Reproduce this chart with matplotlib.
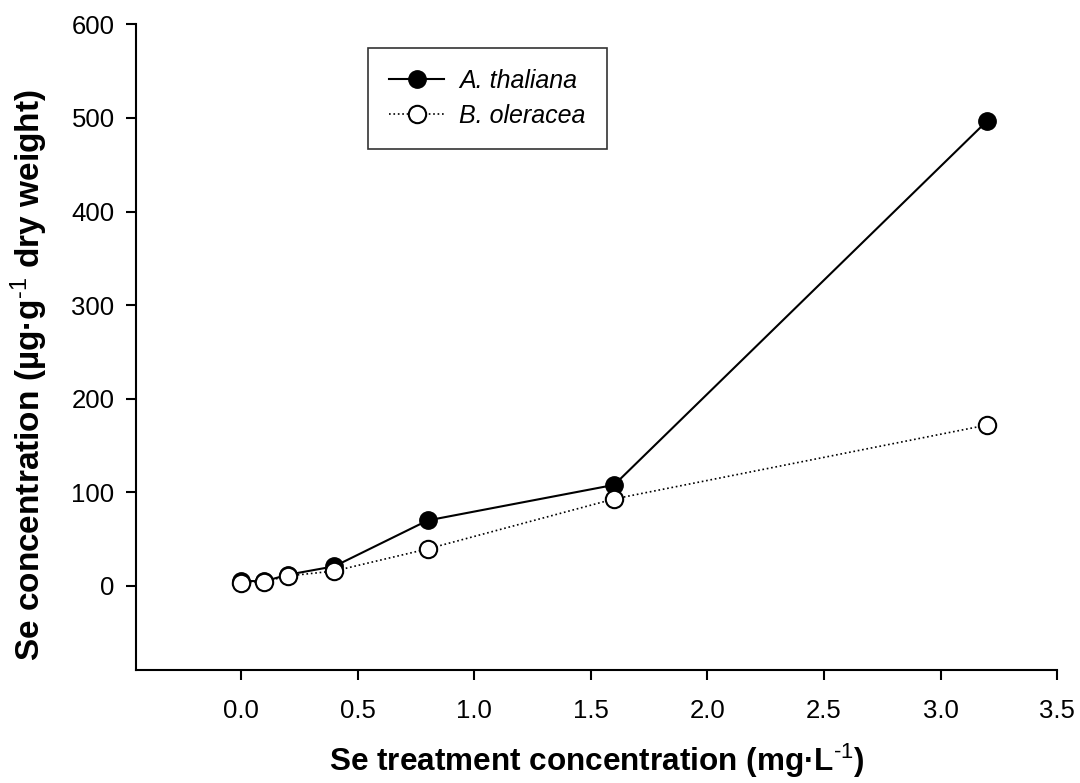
import matplotlib.pyplot as plt
import numpy as np

plt.rcParams['font.family'] = ['Liberation Sans', 'DejaVu Sans']
plt.rcParams['mathtext.fontset'] = 'custom'
plt.rcParams['mathtext.rm'] = 'Liberation Sans'
plt.rcParams['mathtext.bf'] = 'Liberation Sans:bold'
plt.rcParams['mathtext.it'] = 'Liberation Sans:italic'

# Se treatment (mg/L) and Se concentration in plants (ug/g dry weight)
treatment = [0.0, 0.1, 0.2, 0.4, 0.8, 1.6, 3.2]
thaliana = [5.5, 5.0, 12.0, 21.0, 70.0, 108.0, 497.0]
oleracea = [3.0, 4.6, 10.7, 16.0, 39.6, 93.0, 172.0]

x_ticks = [0.0, 0.5, 1.0, 1.5, 2.0, 2.5, 3.0, 3.5]
y_ticks = [0, 100, 200, 300, 400, 500, 600]

fig = plt.figure(figsize=(10.8, 7.83), dpi=100)
ax = fig.add_axes([0.126, 0.144, 0.853, 0.825])

ax.plot(treatment, thaliana, '-', color='black', lw=1.5,
        marker='o', ms=12.5, mfc='black', mec='black', label='A. thaliana', zorder=3)
ax.plot(treatment, oleracea, ':', color='black', lw=1.2,
        marker='o', ms=12.5, mfc='white', mec='black', mew=1.5, label='B. oleracea', zorder=4)

ax.set_xlim(-0.45, 3.5)
ax.set_ylim(-90, 600)
ax.set_xticks(x_ticks)
ax.set_xticklabels([f'{t:.1f}' for t in x_ticks])
ax.set_yticks(y_ticks)

for s in ['top', 'right']:
    ax.spines[s].set_visible(False)
for s in ['left', 'bottom']:
    ax.spines[s].set_linewidth(1.5)

ax.tick_params(axis='both', direction='out', length=7.5, width=1.5, labelsize=18.5)
ax.tick_params(axis='x', pad=13)
ax.tick_params(axis='y', pad=8)

ax.set_xlabel('Se treatment concentration (mg·L$^{\\text{-1}}$)',
              fontsize=22.7, fontweight='bold', labelpad=14)
ax.set_ylabel('Se concentration (µg·g$^{\\text{-1}}$ dry weight)',
              fontsize=24, fontweight='bold')
ax.yaxis.set_label_coords(-0.093, 0.457)

leg = ax.legend(loc='upper left', bbox_to_anchor=(0.252, 0.964),
                prop={'style': 'italic', 'size': 18}, frameon=True, fancybox=False,
                edgecolor='black', handlelength=2.2, borderpad=0.85, labelspacing=0.45,
                handletextpad=0.6, borderaxespad=0)
leg.get_frame().set_linewidth(1.2)

fig.savefig('out.png', dpi=100)
